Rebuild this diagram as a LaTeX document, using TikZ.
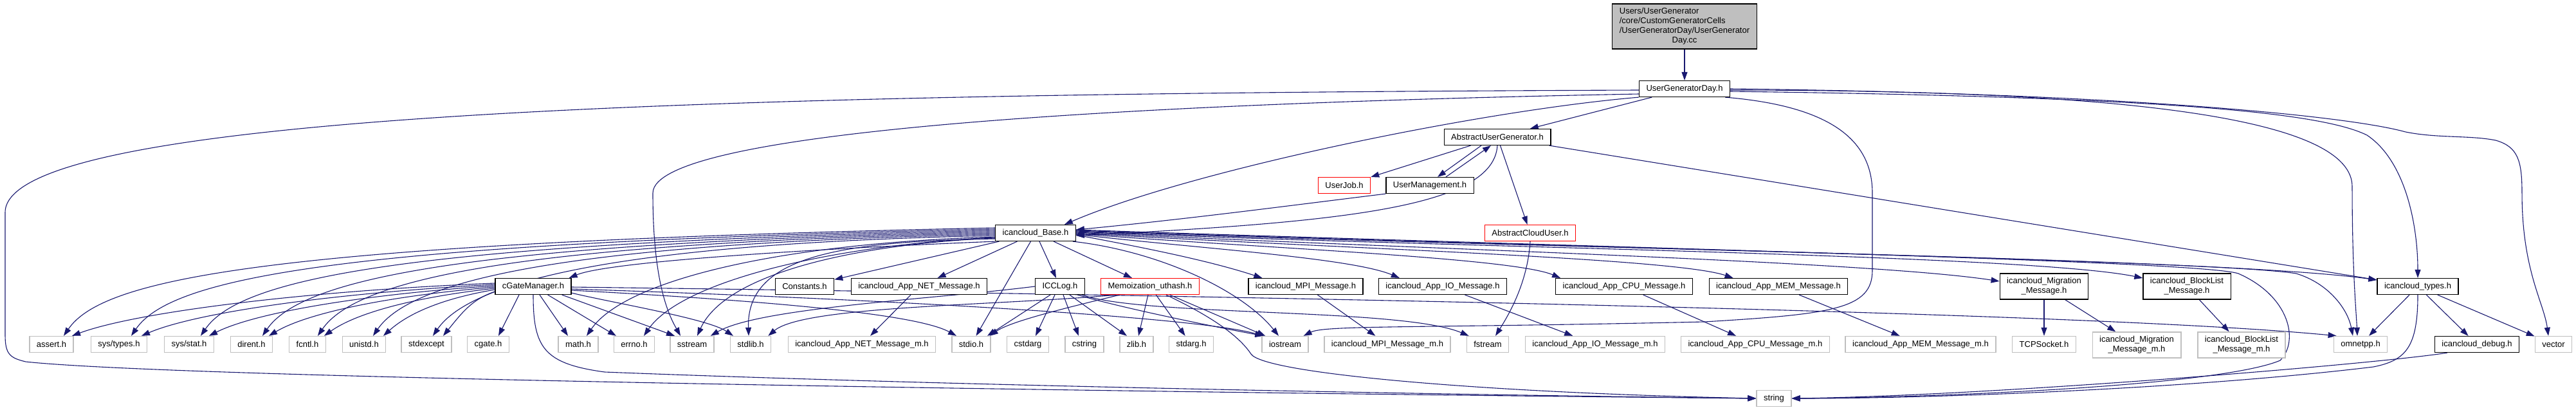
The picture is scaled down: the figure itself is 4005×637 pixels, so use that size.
\documentclass[tikz,border=0pt]{standalone}
\usepackage{fontspec}
\setmainfont{Liberation Sans}
\usetikzlibrary{arrows.meta,calc}
\definecolor{edgeblue}{HTML}{191970}
\definecolor{extgray}{HTML}{BFBFBF}
\pgfdeclarelayer{edgelayer}
\pgfsetlayers{edgelayer,main}
\begin{document}
\begin{tikzpicture}[x=1pt,y=-1pt,
  nbox/.style={draw=black,fill=white,line width=1.2pt,inner xsep=11pt,inner ysep=0pt,minimum height=25pt,font=\fontsize{13}{15}\selectfont},
  docbox/.style={nbox},
  redbox/.style={nbox,draw=red},
  extbox/.style={nbox,draw=extgray,line width=1.4pt},
  twoline/.style={align=center,minimum height=40pt},
  topbox/.style={nbox,fill=extgray,inner ysep=5pt},
  conn/.style={draw=edgeblue,line width=1.1pt,-{Triangle[length=13pt,width=9pt]}}]
\useasboundingbox (0,0) rectangle (4005,637);

% ---------- nodes ----------
\node[topbox] (top) at (2619,41) {\begin{tabular}{@{}l@{}}Users/UserGenerator\\/core/CustomGeneratorCells\\/UserGeneratorDay/UserGenerator\\\multicolumn{1}{@{}c@{}}{Day.cc}\end{tabular}};
\node[docbox] (ugd) at (2619,138) {UserGeneratorDay.h};
\node[docbox] (aug) at (2328,213) {AbstractUserGenerator.h};
\node[redbox] (userjob) at (2090,288) {UserJob.h};
\node[docbox] (um) at (2223,288) {UserManagement.h};
\node[redbox] (acu) at (2379,362) {AbstractCloudUser.h};
\node[docbox] (base) at (1610,362) {icancloud\_Base.h};

\node[docbox] (cgm) at (829,445) {cGateManager.h};
\node[docbox] (consts) at (1251,445) {Constants.h};
\node[docbox] (net) at (1429,445) {icancloud\_App\_NET\_Message.h};
\node[docbox] (icclog) at (1648,445) {ICCLog.h};
\node[redbox] (memo) at (1788,445) {Memoization\_uthash.h};
\node[docbox] (mpi) at (2030,445) {icancloud\_MPI\_Message.h};
\node[docbox] (io) at (2243,445) {icancloud\_App\_IO\_Message.h};
\node[docbox] (cpu) at (2525,445) {icancloud\_App\_CPU\_Message.h};
\node[docbox] (mem) at (2765,445) {icancloud\_App\_MEM\_Message.h};
\node[docbox,twoline] (mig) at (3178,445) {icancloud\_Migration\\\_Message.h};
\node[docbox,twoline] (blk) at (3400,445) {icancloud\_BlockList\\\_Message.h};
\node[docbox] (types) at (3759,445) {icancloud\_types.h};

\node[extbox] (assert) at (80,535) {assert.h};
\node[extbox] (systypes) at (185,535) {sys/types.h};
\node[extbox] (sysstat) at (294,535) {sys/stat.h};
\node[extbox] (dirent) at (391,535) {dirent.h};
\node[extbox] (fcntl) at (478,535) {fcntl.h};
\node[extbox] (unistd) at (566,535) {unistd.h};
\node[extbox] (stdexcept) at (663,535) {stdexcept};
\node[extbox] (cgate) at (759,535) {cgate.h};
\node[extbox] (math) at (899,535) {math.h};
\node[extbox] (errno) at (986,535) {errno.h};
\node[extbox] (sstream) at (1076,535) {sstream};
\node[extbox] (stdlib) at (1167,535) {stdlib.h};
\node[extbox] (netm) at (1340,535) {icancloud\_App\_NET\_Message\_m.h};
\node[extbox] (stdio) at (1510,535) {stdio.h};
\node[extbox] (cstdarg) at (1598,535) {cstdarg};
\node[extbox] (cstring) at (1686,535) {cstring};
\node[extbox] (zlib) at (1767,535) {zlib.h};
\node[extbox] (stdarg) at (1852,535) {stdarg.h};
\node[extbox] (iostream) at (1998,535) {iostream};
\node[extbox] (mpim) at (2157,535) {icancloud\_MPI\_Message\_m.h};
\node[extbox] (fstream) at (2313,535) {fstream};
\node[extbox] (iom) at (2480,535) {icancloud\_App\_IO\_Message\_m.h};
\node[extbox] (cpum) at (2729,535) {icancloud\_App\_CPU\_Message\_m.h};
\node[extbox] (memm) at (2986,535) {icancloud\_App\_MEM\_Message\_m.h};
\node[extbox] (tcp) at (3178,535) {TCPSocket.h};
\node[extbox,twoline] (migm) at (3322,536) {icancloud\_Migration\\\_Message\_m.h};
\node[extbox,twoline] (blkm) at (3485,536) {icancloud\_BlockList\\\_Message\_m.h};
\node[extbox] (omnetpp) at (3670,535) {omnetpp.h};
\node[docbox] (debug) at (3851,535) {icancloud\_debug.h};
\node[extbox] (vector) at (3970,535) {vector};
\node[extbox] (string) at (2758,619) {string};

\begin{pgfonlayer}{edgelayer}
% ---------- top / UserGeneratorDay.h ----------
\draw[conn] (top) -- (ugd);
\draw[conn] (ugd) -- (aug);
\draw[conn] (ugd.south west) .. controls (2300,172) and (1850,265) .. ($(base.north east)+(-18,0)$);
\draw[conn] ($(ugd.west)+(0,8)$) .. controls (1800,160) and (1015,200) .. (1015,300) .. controls (1015,440) and (1040,490) .. ($(sstream.north)+(-18,0)$);
\draw[conn] ($(ugd.west)+(0,2)$) .. controls (1200,145) and (8,170) .. (8,330) -- (8,520) .. controls (8,550) and (15,556) .. (40,562) .. controls (300,590) and (2000,612) .. (string.west);
\draw[conn] ($(ugd.south east)+(-8,0)$) .. controls (2850,165) and (2911,220) .. (2911,300) -- (2911,420) .. controls (2911,480) and (2850,488) .. (2650,500) .. controls (2200,510) and (2060,505) .. ($(iostream.north east)+(-8,0)$);
\draw[conn] ($(ugd.east)+(0,2)$) .. controls (3350,140) and (3657,190) .. (3657,290) .. controls (3657,420) and (3663,480) .. ($(omnetpp.north)+(-5,0)$);
\draw[conn] ($(ugd.east)+(0,4)$) .. controls (3300,150) and (3600,170) .. (3680,210) .. controls (3740,250) and (3759,350) .. (types.north);
\draw[conn] (ugd.east) .. controls (3300,145) and (3650,180) .. (3740,205) .. controls (3790,215) and (3840,210) .. (3880,218) .. controls (3915,228) and (3921,250) .. (3921,300) .. controls (3921,420) and (3955,470) .. ($(vector.north)+(-8,0)$);

% ---------- AbstractUserGenerator.h / UserManagement.h ----------
\draw[conn] (aug) -- (userjob);
\draw[conn] ($(aug.south)+(-25,0)$) -- ($(um.north)+(12,0)$);
\draw[conn] ($(um.north)+(25,0)$) -- ($(aug.south)+(-10,0)$);
\draw[conn] (aug) -- (acu);
\draw[conn] (aug.south) .. controls (2322,320) and (2100,345) .. ($(base.east)+(0,4)$);
\draw[conn] (aug) -- (types);
\draw[conn] (um.south west) .. controls (2000,320) and (1850,340) .. ($(base.east)+(0,-5)$);
\draw[conn] (acu.south) .. controls (2375,440) and (2345,490) .. ($(fstream.north)+(12,0)$);

% ---------- icancloud_Base.h ----------
\draw[conn] (base.south west) .. controls (1300,385) and (950,405) .. ($(cgm.north east)+(-4,0)$);
\draw[conn] (base) -- (consts);
\draw[conn] (base) -- (net);
\draw[conn] (base) -- (icclog);
\draw[conn] (base) -- (memo);
\draw[conn] (base) -- (stdio);
\draw[conn] ($(base.west)+(0,-8)$) .. controls (399,378) and (159,435) .. ($(assert.north)+(19,0)$);
\draw[conn] ($(base.west)+(0,-6)$) .. controls (504,378) and (264,435) .. ($(systypes.north)+(19,0)$);
\draw[conn] ($(base.west)+(0,-4)$) .. controls (612,378) and (372,435) .. ($(sysstat.north)+(18,0)$);
\draw[conn] ($(base.west)+(0,-2)$) .. controls (708,378) and (468,435) .. ($(dirent.north)+(17,0)$);
\draw[conn] (base.west) .. controls (794,378) and (554,435) .. ($(fcntl.north)+(16,0)$);
\draw[conn] ($(base.west)+(0,2)$) .. controls (880,378) and (640,435) .. ($(unistd.north)+(14,0)$);
\draw[conn] ($(base.west)+(0,4)$) .. controls (973,378) and (733,435) .. ($(stdexcept.north)+(10,0)$);
\draw[conn] ($(base.west)+(0,6)$) .. controls (1212,378) and (972,435) .. ($(math.north)+(13,0)$);
\draw[conn] ($(base.west)+(0,7)$) .. controls (1301,380) and (1061,435) .. ($(errno.north)+(15,0)$);
\draw[conn] ($(base.west)+(0,8)$) .. controls (1350,378) and (1130,420) .. ($(sstream.north)+(8,0)$);
\draw[conn] ($(base.west)+(0,9)$) .. controls (1300,375) and (1160,400) .. ($(stdlib.north)+(-3,0)$);
\draw[conn] ($(base.south east)+(-5,0)$) .. controls (1800,390) and (1930,450) .. ($(iostream.north)+(-10,0)$);
\draw[conn] ($(base.east)+(0,3)$) .. controls (1780,385) and (1880,405) .. ($(mpi.north west)+(22,0)$);
\draw[conn] ($(base.east)+(0,2)$) .. controls (1850,385) and (2100,400) .. ($(io.north west)+(33,0)$);
\draw[conn] ($(base.east)+(0,1)$) .. controls (1950,385) and (2350,400) .. ($(cpu.north west)+(8,0)$);
\draw[conn] (base.east) .. controls (2050,385) and (2600,400) .. ($(mem.north west)+(38,0)$);
\draw[conn] ($(base.east)+(0,-1)$) .. controls (2150,385) and (2900,405) .. ($(mig.west)+(0,-8)$);
\draw[conn] ($(base.east)+(0,-2)$) .. controls (2250,385) and (3150,395) .. ($(blk.west)+(0,-13)$);
\draw[conn] ($(base.east)+(0,-3)$) .. controls (2350,385) and (3450,400) .. ($(types.west)+(0,-10)$);
\draw[conn] ($(base.east)+(0,-4)$) .. controls (2450,385) and (3450,405) .. (3570,425) .. controls (3620,440) and (3650,480) .. ($(omnetpp.north)+(-12,0)$);
\draw[conn] ($(base.east)+(0,-5)$) .. controls (2500,385) and (3420,405) .. (3480,425) .. controls (3560,460) and (3575,530) .. (3545,560) .. controls (3450,600) and (3000,618) .. (string.east);

% ---------- cGateManager.h ----------
\draw[conn] ($(cgm.west)+(0,-5)$) .. controls (474,452) and (211,485) .. ($(assert.north)+(32,0)$);
\draw[conn] ($(cgm.west)+(0,-3)$) .. controls (522,455) and (306,485) .. ($(systypes.north)+(35,0)$);
\draw[conn] ($(cgm.west)+(0,-1)$) .. controls (570,457) and (398,485) .. ($(sysstat.north)+(31,0)$);
\draw[conn] ($(cgm.west)+(0,1)$) .. controls (612,459) and (480,485) .. ($(dirent.north)+(27,0)$);
\draw[conn] ($(cgm.west)+(0,3)$) .. controls (650,461) and (556,485) .. ($(fcntl.north)+(26,0)$);
\draw[conn] ($(cgm.west)+(0,5)$) .. controls (692,463) and (637,485) .. ($(unistd.north)+(30,0)$);
\draw[conn] ($(cgm.west)+(0,8)$) .. controls (734,465) and (719,485) .. ($(stdexcept.north)+(26,0)$);
\draw[conn] ($(cgm.south)+(-22,0)$) -- ($(cgate.north)+(16,0)$);
\draw[conn] ($(cgm.south)+(10,0)$) -- ($(math.north)+(-16,0)$);
\draw[conn] ($(cgm.south east)+(-37,0)$) -- ($(errno.north)+(-28,0)$);
\draw[conn] ($(cgm.south east)+(-15,0)$) -- ($(sstream.north)+(-27,0)$);
\draw[conn] ($(cgm.south east)+(0,-3)$) .. controls (950,470) and (1100,495) .. ($(stdlib.north)+(-27,0)$);
\draw[conn] ($(cgm.east)+(0,6)$) .. controls (1150,465) and (1420,485) .. ($(stdio.north)+(-23,0)$);
\draw[conn] ($(cgm.east)+(0,4)$) .. controls (1300,462) and (1850,490) .. ($(iostream.north west)+(3,0)$);
\draw[conn] ($(cgm.east)+(0,1)$) .. controls (1600,455) and (3200,480) .. ($(omnetpp.north west)+(5,0)$);
\draw[conn] (cgm.south) .. controls (829,540) and (845,565) .. (940,578) .. controls (1500,600) and (2300,614) .. (string.west);

% ---------- ICCLog.h ----------
\draw[conn] (icclog.west) .. controls (1450,465) and (1180,478) .. ($(sstream.north east)+(-6,0)$);
\draw[conn] ($(icclog.south)+(-15,0)$) -- ($(stdio.north)+(25,0)$);
\draw[conn] ($(icclog.south)+(-8,0)$) -- ($(cstdarg.north)+(12,0)$);
\draw[conn] ($(icclog.south)+(5,0)$) -- ($(cstring.north)+(-9,0)$);
\draw[conn] ($(icclog.south)+(15,0)$) -- ($(zlib.north)+(-15,0)$);
\draw[conn] ($(icclog.south east)+(-12,0)$) .. controls (1750,480) and (1900,510) .. ($(iostream.north west)+(3,0)$);
\draw[conn] ($(icclog.south east)+(-5,0)$) .. controls (1780,492) and (2180,478) .. ($(fstream.north west)+(4,0)$);

% ---------- Memoization_uthash.h ----------
\draw[conn] ($(memo.south west)+(30,0)$) .. controls (1650,480) and (1570,500) .. ($(stdio.north east)+(-2,0)$);
\draw[conn] ($(memo.south west)+(25,0)$) .. controls (1550,475) and (1250,475) .. ($(stdlib.north east)+(-5,0)$);
\draw[conn] (memo) -- (zlib);
\draw[conn] (memo) -- (stdarg);
\draw[conn] (memo) -- (iostream);
\draw[conn] ($(memo.south)+(25,0)$) .. controls (1880,490) and (1925,520) .. (1945,550) .. controls (1965,580) and (2300,610) .. (string.west);

% ---------- message headers ----------
\draw[conn] (net) -- (netm);
\draw[conn] (mpi) -- (mpim);
\draw[conn] (io) -- (iom);
\draw[conn] (cpu) -- (cpum);
\draw[conn] (mem) -- (memm);
\draw[conn] (mig) -- (tcp);
\draw[conn] (mig) -- (migm);
\draw[conn] (blk) -- (blkm);

% ---------- icancloud_types.h / debug ----------
\draw[conn] (types) -- (omnetpp);
\draw[conn] (types) -- (debug);
\draw[conn] (types) -- (vector);
\draw[conn] (types.south) .. controls (3759,540) and (3740,560) .. (3690,570) .. controls (3400,605) and (3000,619) .. (string.east);
\draw[conn] ($(debug.south west)+(20,0)$) .. controls (3700,565) and (3100,615) .. (string.east);
\end{pgfonlayer}
\end{tikzpicture}
\end{document}
